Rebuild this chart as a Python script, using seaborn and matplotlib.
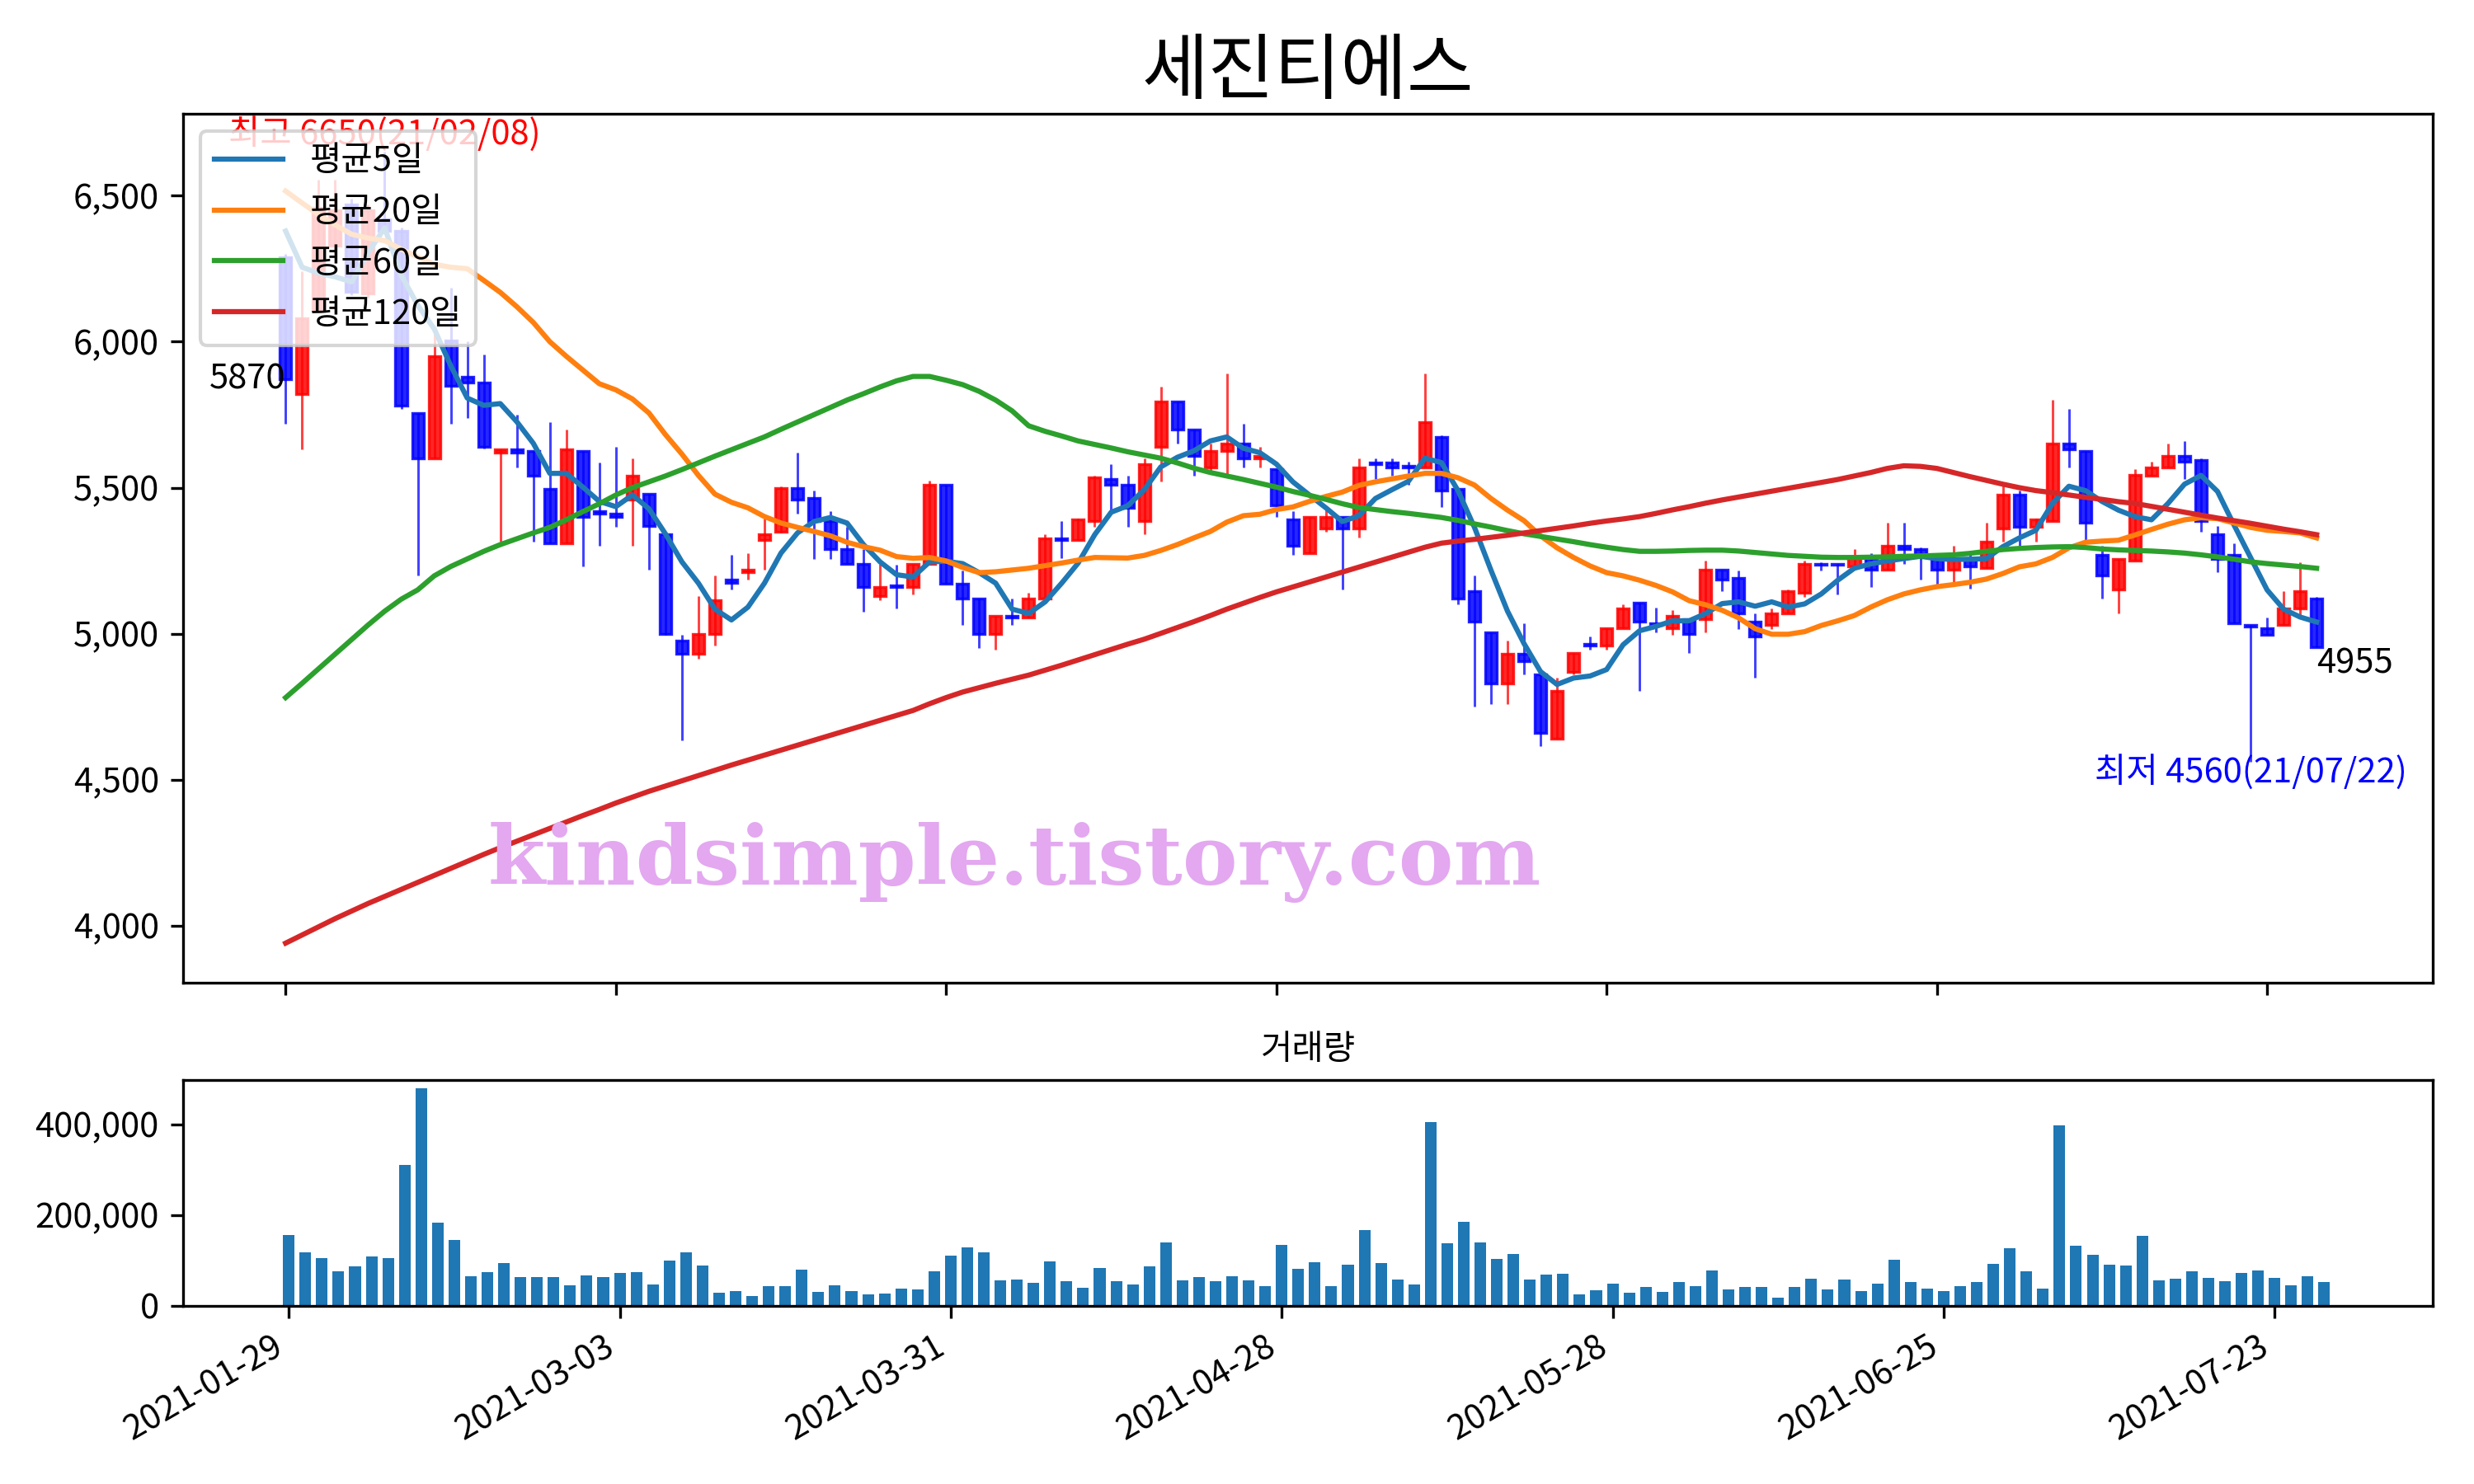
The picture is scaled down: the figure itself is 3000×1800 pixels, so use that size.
import numpy as np
import matplotlib
matplotlib.use('Agg')
import matplotlib.pyplot as plt
from matplotlib.ticker import FuncFormatter
import seaborn as sns

plt.rcParams['font.family'] = ['Noto Sans CJK KR', 'DejaVu Sans']
plt.rcParams['axes.unicode_minus'] = False

title = '세진티에스'

# OHLC per trading day (index 0 = 2021-01-29)
opens = [6290, 5820, 6110, 6330, 6470, 6165, 6420, 6380, 5755, 5600,
         6005, 5880, 5860, 5620, 5630, 5625, 5495, 5310, 5625, 5420,
         5410, 5460, 5480, 5340, 4975, 4930, 5000, 5185, 5210, 5320,
         5350, 5500, 5465, 5385, 5290, 5240, 5130, 5165, 5160, 5240,
         5510, 5170, 5120, 5000, 5060, 5055, 5120, 5325, 5320, 5385,
         5530, 5510, 5385, 5640, 5795, 5700, 5570, 5625, 5650, 5600,
         5565, 5390, 5275, 5360, 5400, 5360, 5585, 5585, 5575, 5570,
         5675, 5495, 5145, 5005, 4830, 4930, 4860, 4640, 4870, 4965,
         4960, 5020, 5105, 5035, 5020, 5050, 5050, 5220, 5190, 5040,
         5030, 5070, 5140, 5240, 5240, 5230, 5260, 5220, 5300, 5290,
         5255, 5220, 5255, 5225, 5360, 5475, 5365, 5385, 5650, 5625,
         5270, 5150, 5250, 5540, 5570, 5610, 5595, 5340, 5270, 5030,
         5020, 5030, 5085, 5120]
highs = [6300, 6240, 6555, 6555, 6490, 6470, 6650, 6390, 5755, 6035,
         6185, 6000, 5955, 5630, 5750, 5625, 5725, 5700, 5625, 5585,
         5640, 5600, 5480, 5345, 4995, 5130, 5200, 5270, 5275, 5395,
         5505, 5620, 5490, 5420, 5365, 5290, 5240, 5235, 5240, 5525,
         5510, 5215, 5120, 5060, 5120, 5140, 5340, 5385, 5395, 5540,
         5580, 5540, 5600, 5845, 5795, 5700, 5650, 5890, 5720, 5640,
         5565, 5420, 5400, 5425, 5400, 5600, 5600, 5600, 5590, 5890,
         5680, 5495, 5200, 5005, 4975, 5035, 4860, 4850, 4935, 4990,
         5020, 5100, 5105, 5090, 5080, 5050, 5250, 5220, 5215, 5070,
         5085, 5150, 5250, 5245, 5240, 5290, 5275, 5380, 5380, 5295,
         5260, 5300, 5285, 5380, 5510, 5490, 5395, 5800, 5770, 5625,
         5300, 5255, 5565, 5590, 5650, 5660, 5600, 5370, 5310, 5030,
         5055, 5145, 5245, 5125]
lows = [5720, 5630, 6100, 6300, 6160, 6150, 6370, 5770, 5200, 5600,
        5720, 5740, 5635, 5315, 5570, 5315, 5310, 5310, 5230, 5300,
        5365, 5300, 5220, 4995, 4635, 4915, 4960, 5150, 5185, 5220,
        5345, 5410, 5255, 5255, 5240, 5075, 5115, 5085, 5135, 5240,
        5170, 5030, 4950, 4945, 5030, 5055, 5120, 5260, 5320, 5365,
        5420, 5365, 5340, 5520, 5650, 5540, 5555, 5540, 5570, 5570,
        5400, 5270, 5275, 5350, 5150, 5330, 5530, 5540, 5510, 5570,
        5435, 5100, 4750, 4760, 4760, 4860, 4615, 4640, 4860, 4945,
        4945, 5020, 4805, 5005, 4995, 4935, 5005, 5145, 5015, 4850,
        5015, 5070, 5125, 5215, 5135, 5230, 5160, 5220, 5240, 5185,
        5165, 5175, 5155, 5225, 5315, 5300, 5315, 5385, 5570, 5320,
        5120, 5070, 5250, 5540, 5570, 5530, 5350, 5210, 5035, 4560,
        4995, 5030, 5060, 4955]
closes = [5870, 6080, 6460, 6450, 6170, 6450, 6380, 5780, 5600, 5950,
          5850, 5860, 5640, 5630, 5620, 5540, 5310, 5630, 5400, 5410,
          5400, 5540, 5370, 5000, 4930, 5000, 5115, 5175, 5220, 5340,
          5500, 5460, 5385, 5290, 5240, 5160, 5160, 5160, 5240, 5510,
          5170, 5120, 5000, 5060, 5055, 5120, 5325, 5320, 5390, 5535,
          5510, 5430, 5580, 5795, 5700, 5610, 5625, 5650, 5600, 5610,
          5440, 5300, 5400, 5400, 5360, 5570, 5580, 5570, 5570, 5725,
          5490, 5120, 5040, 4830, 4930, 4905, 4660, 4805, 4935, 4960,
          5020, 5085, 5040, 5030, 5060, 5000, 5220, 5185, 5070, 4990,
          5070, 5145, 5240, 5235, 5235, 5265, 5220, 5300, 5290, 5265,
          5220, 5255, 5230, 5315, 5475, 5365, 5390, 5650, 5630, 5380,
          5200, 5255, 5545, 5570, 5610, 5590, 5385, 5255, 5035, 5025,
          4995, 5085, 5145, 4955]

ma5 = [6379, 6255, 6235, 6222, 6205, 6305, 6390, 6228, 6125, 6044,
       5918, 5807, 5782, 5788, 5726, 5652, 5549, 5549, 5502, 5453,
       5435, 5475, 5428, 5342, 5246, 5173, 5084, 5047, 5091, 5173,
       5276, 5345, 5384, 5398, 5379, 5305, 5246, 5202, 5194, 5246,
       5248, 5240, 5209, 5173, 5084, 5069, 5109, 5173, 5242, 5339,
       5416, 5438, 5493, 5571, 5604, 5626, 5660, 5674, 5635, 5620,
       5581, 5520, 5475, 5431, 5384, 5404, 5463, 5493, 5522, 5601,
       5586, 5490, 5364, 5217, 5077, 4966, 4870, 4826, 4848, 4855,
       4877, 4962, 5010, 5025, 5044, 5044, 5069, 5103, 5109, 5094,
       5109, 5091, 5102, 5136, 5183, 5224, 5239, 5249, 5257, 5265,
       5257, 5254, 5255, 5257, 5298, 5328, 5354, 5446, 5505, 5490,
       5453, 5423, 5401, 5390, 5446, 5512, 5542, 5487, 5372, 5261,
       5150, 5084, 5057, 5040]
ma20 = [6516, 6475, 6435, 6400, 6368, 6355, 6346, 6317, 6290, 6265,
        6255, 6250, 6210, 6169, 6120, 6066, 6000, 5950, 5903, 5856,
        5835, 5804, 5756, 5682, 5615, 5542, 5478, 5450, 5431, 5401,
        5379, 5364, 5350, 5335, 5313, 5298, 5286, 5264, 5258, 5261,
        5249, 5227, 5209, 5212, 5218, 5224, 5233, 5242, 5252, 5261,
        5260, 5259, 5268, 5285, 5305, 5328, 5350, 5382, 5404, 5409,
        5425, 5434, 5453, 5470, 5485, 5508, 5520, 5530, 5540, 5549,
        5549, 5534, 5509, 5463, 5423, 5387, 5335, 5294, 5261, 5232,
        5209, 5198, 5183, 5165, 5143, 5113, 5099, 5080, 5054, 5017,
        4998, 4998, 5007, 5028, 5044, 5062, 5091, 5116, 5136, 5150,
        5161, 5168, 5176, 5187, 5206, 5229, 5239, 5261, 5294, 5313,
        5317, 5320, 5338, 5357, 5375, 5390, 5397, 5394, 5379, 5364,
        5354, 5350, 5345, 5328]
ma60 = [4781, 4830, 4880, 4930, 4980, 5030, 5077, 5118, 5150, 5198,
        5230, 5256, 5282, 5305, 5325, 5345, 5364, 5390, 5418, 5445,
        5475, 5500, 5520, 5540, 5562, 5585, 5608, 5630, 5652, 5674,
        5700, 5725, 5750, 5775, 5800, 5822, 5845, 5866, 5881, 5881,
        5868, 5853, 5830, 5800, 5763, 5712, 5693, 5677, 5660, 5648,
        5636, 5623, 5612, 5601, 5585, 5567, 5552, 5540, 5528, 5515,
        5502, 5487, 5474, 5460, 5445, 5432, 5425, 5418, 5412, 5405,
        5398, 5388, 5376, 5365, 5353, 5342, 5333, 5324, 5315, 5305,
        5296, 5288, 5282, 5282, 5283, 5285, 5286, 5286, 5283, 5278,
        5273, 5268, 5265, 5262, 5261, 5261, 5262, 5263, 5265, 5266,
        5268, 5270, 5275, 5282, 5288, 5292, 5295, 5297, 5298, 5295,
        5290, 5287, 5285, 5283, 5280, 5276, 5270, 5263, 5255, 5246,
        5240, 5235, 5230, 5224]
ma120 = [3940, 3968, 3996, 4024, 4050, 4076, 4100, 4124, 4148, 4172,
         4196, 4220, 4244, 4267, 4289, 4311, 4333, 4355, 4377, 4398,
         4420, 4440, 4460, 4478, 4496, 4514, 4532, 4550, 4567, 4584,
         4601, 4618, 4635, 4652, 4669, 4686, 4703, 4720, 4737, 4760,
         4781, 4800, 4815, 4830, 4844, 4858, 4875, 4892, 4910, 4928,
         4946, 4964, 4981, 5001, 5021, 5041, 5062, 5084, 5104, 5124,
         5143, 5160, 5177, 5194, 5211, 5228, 5245, 5262, 5279, 5296,
         5310, 5317, 5323, 5330, 5337, 5345, 5353, 5361, 5369, 5378,
         5386, 5393, 5401, 5412, 5424, 5435, 5447, 5458, 5468, 5478,
         5488, 5498, 5508, 5518, 5528, 5540, 5552, 5566, 5575, 5573,
         5566, 5552, 5538, 5525, 5512, 5500, 5490, 5483, 5475, 5467,
         5460, 5452, 5446, 5436, 5426, 5416, 5406, 5396, 5387, 5378,
         5368, 5358, 5349, 5339]

volume = [156700, 118300, 105500, 76200, 87200, 109200, 105500, 310400, 478700, 182300,
          145700, 65200, 74400, 94500, 63400, 63400, 63400, 45100, 67100, 63400,
          72600, 74400, 47000, 100000, 118300, 89000, 28700, 32300, 21300, 43300,
          43300, 79900, 30500, 45100, 32300, 25000, 26800, 37800, 36000, 76200,
          111000, 129300, 118300, 56100, 57900, 50600, 98200, 54300, 39600, 83500,
          54300, 47000, 87200, 140300, 56100, 63400, 54300, 65200, 56100, 43300,
          134800, 81700, 96300, 43300, 90900, 165900, 94500, 57900, 47000, 405500,
          138400, 184200, 140300, 103700, 114600, 57900, 68900, 70700, 25000, 34100,
          48800, 28700, 41500, 30500, 52400, 43300, 78100, 36000, 41500, 41500,
          17700, 41500, 59800, 36000, 57900, 32300, 48800, 101800, 52400, 37800,
          32300, 43300, 52400, 92700, 127400, 76200, 37800, 398200, 132900, 112800,
          90900, 89000, 154900, 56100, 59800, 76200, 61600, 54300, 72600, 78100,
          61600, 45100, 65200, 52400]

tick_pos = [0, 20, 40, 60, 80, 100, 120]
tick_labels = ['2021-01-29', '2021-03-03', '2021-03-31', '2021-04-28',
               '2021-05-28', '2021-06-25', '2021-07-23']

hi_idx, hi_val, hi_date = 6, 6650, '21/02/08'
lo_idx, lo_val, lo_date = 119, 4560, '21/07/22'

idx = np.arange(len(closes))
o = np.array(opens); c = np.array(closes)
h = np.array(highs); l = np.array(lows)
up = c >= o

fig = plt.figure(figsize=(10, 6), dpi=300)
ax = fig.add_axes([0.074, 0.3379, 0.9093, 0.5855])
ax2 = fig.add_axes([0.074, 0.1201, 0.9093, 0.152])

# candles: wicks then bodies
for mask, col in [(up, 'red'), (~up, 'blue')]:
    ax.vlines(idx[mask], l[mask], h[mask], color=col, linewidth=0.7, alpha=0.75, zorder=1)
    ax.bar(idx[mask], c[mask] - o[mask], bottom=o[mask], width=0.7,
           color=col, edgecolor=col, linewidth=0.8, alpha=0.85, zorder=2)

# moving averages
sns.lineplot(x=idx, y=ma5, ax=ax, color='#1f77b4', linewidth=1.5, label='평균5일', zorder=3)
sns.lineplot(x=idx, y=ma20, ax=ax, color='#ff7f0e', linewidth=1.5, label='평균20일', zorder=3)
sns.lineplot(x=idx, y=ma60, ax=ax, color='#2ca02c', linewidth=1.5, label='평균60일', zorder=3)
sns.lineplot(x=idx, y=ma120, ax=ax, color='#d62728', linewidth=1.5, label='평균120일', zorder=3)

ax.text(hi_idx, hi_val, f'최고 {hi_val}({hi_date})', color='red', ha='center', va='bottom', fontsize=10)
ax.annotate(f'최저 {lo_val}({lo_date})', (lo_idx, lo_val), xytext=(0, -3),
            textcoords='offset points', color='blue', ha='center', va='center', fontsize=10)
ax.text(idx[0], closes[0], f'{closes[0]}', ha='right', va='center', fontsize=10)
ax.text(idx[-1], closes[-1], f'{closes[-1]}', ha='left', va='top', fontsize=10)

ax.text(0.3696, 0.138, 'kindsimple.tistory.com', transform=ax.transAxes,
        ha='center', va='center', fontsize=24, fontweight='bold',
        family=['DejaVu Serif'], color='#e3a8f0', zorder=10)

ax.legend(loc='upper left')
ax.set_title(title, fontsize=21)
ax.set_xlim(-6.21, 130.03)
ax.set_ylim(3805, 6781)
ax.set_yticks([4000, 4500, 5000, 5500, 6000, 6500])
ax.yaxis.set_major_formatter(FuncFormatter(lambda v, p: f'{v:,.0f}'))
ax.set_xticks(tick_pos)
ax.set_xticklabels([])
ax.set_xlabel('')
ax.set_ylabel('')

# volume
sns.barplot(x=idx, y=volume, ax=ax2, native_scale=True, color='#1f77b4',
            saturation=1, width=0.7, errorbar=None)
ax2.set_title('거래량', fontsize=10)
ax2.set_xlim(-6.39, 129.55)
ax2.set_ylim(0, 497000)
ax2.set_yticks([0, 200000, 400000])
ax2.yaxis.set_major_formatter(FuncFormatter(lambda v, p: f'{v:,.0f}'))
ax2.set_xticks(tick_pos)
ax2.set_xticklabels(tick_labels, rotation=30, ha='right')
ax2.set_xlabel('')
ax2.set_ylabel('')

fig.savefig('out.png', dpi=300)
